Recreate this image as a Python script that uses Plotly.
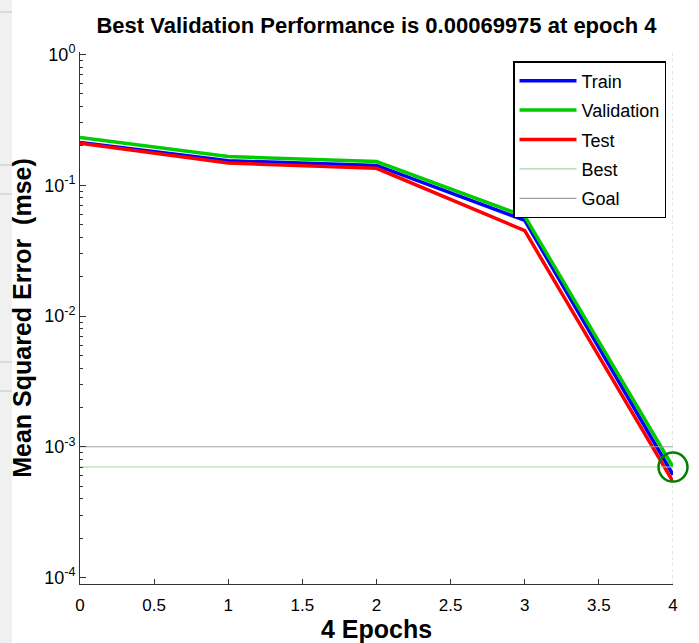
import plotly.graph_objects as go

epochs = [0, 1, 2, 3, 4]
train = [0.213, 0.154, 0.142, 0.054, 0.00061]
validation = [0.232, 0.166, 0.152, 0.058, 0.00069975]
test = [0.210, 0.148, 0.135, 0.045, 0.00054]
best_epoch = 4
best_perf = 0.00069975
goal = 0.001
y_tickvals = [1e-4, 1e-3, 1e-2, 1e-1, 1e0]
y_ticktext = ["10<sup>-4</sup>", "10<sup>-3</sup>", "10<sup>-2</sup>", "10<sup>-1</sup>", "10<sup>0</sup>"]
x_tickvals = [0, 0.5, 1, 1.5, 2, 2.5, 3, 3.5, 4]
x_ticktext = ["0", "0.5", "1", "1.5", "2", "2.5", "3", "3.5", "4"]

FONT = "Arial, Liberation Sans, sans-serif"

fig = go.Figure()
fig.add_trace(go.Scatter(x=epochs, y=train, mode="lines", name="Train", legendgroup="a",
                         line=dict(color="#0000ff", width=3.5)))
fig.add_trace(go.Scatter(x=epochs, y=validation, mode="lines", name="Validation", legendgroup="b",
                         line=dict(color="#00cc00", width=3.5)))
fig.add_trace(go.Scatter(x=epochs, y=test, mode="lines", name="Test", legendgroup="c",
                         line=dict(color="#ff0000", width=3.5)))
fig.add_trace(go.Scatter(x=[epochs[0], epochs[-1]], y=[best_perf, best_perf], mode="lines", name="Best",
                         legendgroup="d", line=dict(color="#a8d8a8", width=1.2)))
fig.add_trace(go.Scatter(x=[epochs[0], epochs[-1]], y=[goal, goal], mode="lines", name="Goal",
                         legendgroup="e", line=dict(color="#a0a0a0", width=1.2)))
fig.add_vline(x=best_epoch, line=dict(color="#cfe9cf", width=1.5, dash="dot"), layer="below")
fig.add_trace(go.Scatter(x=[best_epoch], y=[best_perf], mode="markers", showlegend=False,
                         marker=dict(symbol="circle-open", size=29, color="#008000",
                                     line=dict(width=2.5, color="#008000")),
                         cliponaxis=False))

# left window strip (screenshot frame)
W = 593.0
H = 532.0
fig.add_shape(type="rect", xref="paper", yref="paper", x0=-80 / W, x1=-68 / W,
              y0=-59 / H, y1=584 / H, fillcolor="#f0f0f0", line=dict(width=0), layer="below")
for py in [12, 165, 194, 362, 391]:
    fig.add_shape(type="line", xref="paper", yref="paper", x0=-80 / W, x1=-68 / W,
                  y0=(584 - py) / H, y1=(584 - py) / H, line=dict(color="#c4c4c4", width=1))

fig.update_layout(
    width=699, height=643,
    margin=dict(l=80, r=26, t=52, b=59),
    paper_bgcolor="white", plot_bgcolor="white",
    font=dict(family=FONT, size=16, color="black"),
    title=dict(text="<b>Best Validation Performance is 0.00069975 at epoch 4</b>",
               x=(80 + 593 / 2) / 699, xanchor="center", y=1 - 25 / 643, yanchor="middle",
               font=dict(size=22, family=FONT, color="black")),
    showlegend=True,
    legend=dict(x=(666 - 80) / W, xanchor="right", y=(584 - 61) / H, yanchor="top",
                bordercolor="black", borderwidth=1.5, bgcolor="white",
                font=dict(size=18, family=FONT), tracegroupgap=3, traceorder="grouped",
                itemwidth=57),
    xaxis=dict(range=[0, 4], tickvals=x_tickvals, ticktext=x_ticktext, ticks="inside", ticklen=5,
               tickcolor="#333", showline=True, linecolor="#333", linewidth=1, showgrid=False,
               zeroline=False, mirror=False, tickfont=dict(size=17), ticklabelstandoff=6,
               automargin=False,
               title=dict(text="<b>4 Epochs</b>", font=dict(size=25, family=FONT), standoff=2)),
    yaxis=dict(type="log", range=[-4.05, 0.02], tickvals=y_tickvals, ticktext=y_ticktext,
               ticks="inside", ticklen=6, tickcolor="#333", showline=True, linecolor="#333",
               linewidth=1, showgrid=False, zeroline=False, tickfont=dict(size=18),
               automargin=False,
               minor=dict(ticks="inside", ticklen=3, dtick="D1", tickcolor="#333", showgrid=False),
               title=dict(text="<b>Mean Squared Error  (mse)</b>", font=dict(size=25, family=FONT),
                          standoff=5)),
)

fig.write_html("out.html")
